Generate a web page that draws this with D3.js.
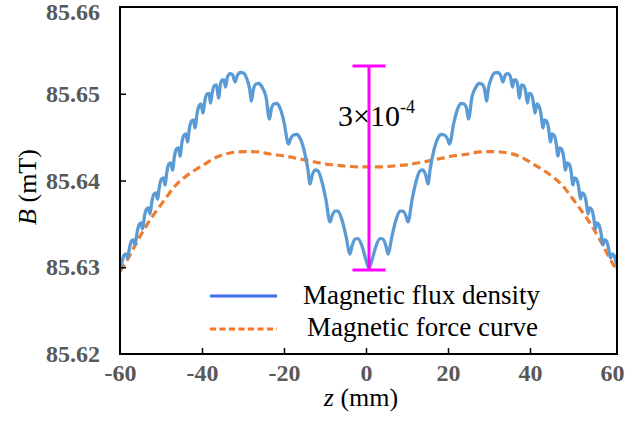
<!DOCTYPE html>
<html>
<head>
<meta charset="utf-8">
<script src="https://cdn.jsdelivr.net/npm/d3@7/dist/d3.min.js"></script>
<style>
  html, body { margin: 0; padding: 0; background: #fff; }
  svg { display: block; }
</style>
</head>
<body>
<svg id="chart" width="630" height="427"></svg>
<script>
// ---------------- data ----------------
const zTicks = [-60, -40, -20, 0, 20, 40, 60];
const bTicks = [85.62, 85.63, 85.64, 85.65, 85.66];

// Magnetic flux density (blue, solid)
const fluxZ = [
  -60.00, -59.51, -59.02, -58.54, -58.17, -57.68, -57.20, -56.71, -56.34, -55.85,
  -55.37, -54.88, -54.51, -54.02, -53.54, -53.05, -52.68, -52.20, -51.71, -51.22,
  -50.85, -50.37, -49.88, -49.39, -49.02, -48.54, -48.05, -47.56, -47.20, -46.71,
  -46.22, -45.73, -45.37, -44.88, -44.39, -43.90, -43.54, -43.05, -42.56, -42.07,
  -41.71, -41.22, -40.73, -40.24, -39.76, -39.27, -38.78, -38.29, -37.93, -37.44,
  -36.95, -36.46, -35.98, -35.49, -35.00, -34.63, -34.27, -33.78, -33.17, -32.56,
  -31.95, -31.34, -30.61, -29.88, -29.15, -28.41, -27.93, -27.44, -26.83, -26.10,
  -25.37, -24.39, -23.54, -23.05, -22.44, -21.71, -20.98, -20.00, -18.90, -18.41,
  -17.68, -16.83, -16.10, -15.12, -14.15, -13.66, -13.17, -12.44, -11.71, -10.73,
  -9.76, -8.78, -8.29, -7.56, -6.83, -5.85, -4.88, -3.90, -3.41, -2.68,
  -1.95, -0.98, 0.00, 0.73,
  1.46, 2.44, 3.41, 4.14, 4.87, 5.36, 6.34, 7.31, 8.29, 9.02,
  9.75, 10.24, 11.22, 12.19, 13.17, 13.90, 14.63, 15.12, 15.61, 16.58,
  17.56, 18.29, 19.14, 19.87, 20.36, 21.46, 22.44, 23.17, 23.90, 24.51,
  25.00, 25.85, 26.83, 27.56, 28.29, 28.90, 29.39, 29.87, 30.61, 31.34,
  32.07, 32.80, 33.41, 34.02, 34.63, 35.24, 35.73, 36.09, 36.46, 36.95,
  37.44, 37.92, 38.41, 38.90, 39.39, 39.75, 40.24, 40.73, 41.22, 41.70,
  42.19, 42.68, 43.17, 43.53, 44.02, 44.51, 45.00, 45.36, 45.85, 46.34,
  46.83, 47.19, 47.68, 48.17, 48.66, 49.02, 49.51, 50.00, 50.48, 50.85,
  51.34, 51.83, 52.31, 52.68, 53.17, 53.66, 54.14, 54.51, 55.00, 55.48,
  55.97, 56.34, 56.83, 57.31, 57.80, 58.17, 58.66, 59.14, 59.63, 60.00,
  60.48, 60.97, 61.46
];
const fluxB = [
  85.62945, 85.63061, 85.63141, 85.63153, 85.63107, 85.63222, 85.63303, 85.63314, 85.63256, 85.63395,
  85.63487, 85.63510, 85.63441, 85.63591, 85.63671, 85.63683, 85.63614, 85.63764, 85.63844, 85.63856,
  85.63787, 85.63937, 85.64017, 85.64029, 85.63948, 85.64110, 85.64190, 85.64202, 85.64121, 85.64282,
  85.64363, 85.64375, 85.64282, 85.64444, 85.64524, 85.64536, 85.64444, 85.64605, 85.64686, 85.64697,
  85.64605, 85.64767, 85.64859, 85.64882, 85.64778, 85.64928, 85.64997, 85.65003, 85.64893, 85.65032,
  85.65095, 85.65101, 85.64951, 85.65112, 85.65159, 85.65159, 85.65078, 85.65193, 85.65233, 85.65222,
  85.65135, 85.65216, 85.65245, 85.65239, 85.65182, 85.65066, 85.64916, 85.65055, 85.65112, 85.65118,
  85.65078, 85.64963, 85.64709, 85.64836, 85.64882, 85.64888, 85.64836, 85.64674, 85.64421, 85.64478,
  85.64524, 85.64530, 85.64490, 85.64352, 85.64121, 85.63960, 85.64052, 85.64121, 85.64110, 85.63983,
  85.63775, 85.63522, 85.63591, 85.63648, 85.63648, 85.63545, 85.63360, 85.63153, 85.63245, 85.63326,
  85.63331, 85.63245, 85.63084, 85.62991,
  85.63084, 85.63245, 85.63331, 85.63326, 85.63245, 85.63153, 85.63360, 85.63545, 85.63648, 85.63648,
  85.63591, 85.63522, 85.63775, 85.63983, 85.64110, 85.64121, 85.64052, 85.63960, 85.64121, 85.64352,
  85.64490, 85.64530, 85.64524, 85.64478, 85.64421, 85.64674, 85.64836, 85.64888, 85.64882, 85.64836,
  85.64709, 85.64963, 85.65078, 85.65118, 85.65112, 85.65055, 85.64916, 85.65066, 85.65182, 85.65239,
  85.65245, 85.65216, 85.65135, 85.65222, 85.65233, 85.65193, 85.65078, 85.65159, 85.65159, 85.65112,
  85.64951, 85.65101, 85.65095, 85.65032, 85.64893, 85.65003, 85.64997, 85.64928, 85.64778, 85.64882,
  85.64859, 85.64767, 85.64605, 85.64697, 85.64686, 85.64605, 85.64444, 85.64536, 85.64524, 85.64444,
  85.64282, 85.64375, 85.64363, 85.64282, 85.64121, 85.64202, 85.64190, 85.64110, 85.63948, 85.64029,
  85.64017, 85.63937, 85.63787, 85.63856, 85.63844, 85.63764, 85.63614, 85.63683, 85.63671, 85.63591,
  85.63441, 85.63510, 85.63487, 85.63395, 85.63256, 85.63314, 85.63303, 85.63222, 85.63107, 85.63153,
  85.63141, 85.63061, 85.62945
];

// Magnetic force curve (orange, dashed)
const forceZ = [
  -60.00, -58.78, -57.56, -55.61, -53.90, -52.20, -50.24, -48.29, -46.34, -44.15,
  -41.71, -39.27, -36.34, -33.17, -29.51, -26.34, -23.41, -19.76, -16.10, -12.44,
  -8.78, -5.12, -1.95, 0.73, 3.41, 6.58, 10.24, 13.90, 17.56, 21.22,
  24.87, 27.80, 30.97, 34.63, 37.80, 40.73, 43.17, 45.61, 47.80, 49.75,
  51.70, 53.66, 55.36, 57.07, 59.02, 60.24, 61.46
];
const forceB = [
  85.62957, 85.63037, 85.63141, 85.63314, 85.63452, 85.63579, 85.63706, 85.63833, 85.63948, 85.64040,
  85.64121, 85.64190, 85.64271, 85.64317, 85.64334, 85.64329, 85.64305, 85.64282, 85.64248, 85.64213,
  85.64184, 85.64167, 85.64156, 85.64156, 85.64156, 85.64167, 85.64184, 85.64213, 85.64248, 85.64282,
  85.64305, 85.64329, 85.64334, 85.64317, 85.64271, 85.64190, 85.64121, 85.64040, 85.63948, 85.63833,
  85.63706, 85.63579, 85.63452, 85.63314, 85.63141, 85.63037, 85.62957
];

// Range marker (peak-to-valley of flux density)
const rangeZ = 0.73;
const rangeLow = 85.62968;
const rangeHigh = 85.65320;
const rangeLabel = "3×10";
const rangeExp = "-4";

const seriesNames = ["Magnetic flux density", "Magnetic force curve"];
const xTitle = "z";
const xUnit = " (mm)";
const yTitle = "B";
const yUnit = " (mT)";

// ---------------- layout ----------------
const svg = d3.select("#chart");
const x = d3.scaleLinear().domain([-60, 60]).range([120, 612]);
const y = d3.scaleLinear().domain([85.62, 85.66]).range([354, 7]);
const frameRight = 617;

const serif = "'Liberation Serif', 'Times New Roman', serif";
const hyphenFmt = d => (d < 0 ? "-" + Math.abs(d) : String(d));

// clip
svg.append("defs").append("clipPath").attr("id", "plotclip")
  .append("rect").attr("x", 120).attr("y", 7).attr("width", frameRight - 120).attr("height", 347);

// curves
const fluxData = fluxZ.map((z, i) => [z, fluxB[i]]);
const forceData = forceZ.map((z, i) => [z, forceB[i]]);

const plot = svg.append("g").attr("clip-path", "url(#plotclip)");

plot.append("path")
  .datum(forceData)
  .attr("fill", "none")
  .attr("stroke", "#ed7d31")
  .attr("stroke-width", 3.2)
  .attr("stroke-dasharray", "8,4.5")
  .attr("d", d3.line().x(d => x(d[0])).y(d => y(d[1])).curve(d3.curveMonotoneX));

plot.append("path")
  .datum(fluxData)
  .attr("fill", "none")
  .attr("stroke", "#5b9bd5")
  .attr("stroke-width", 3.3)
  .attr("stroke-linejoin", "round")
  .attr("d", d3.line().x(d => x(d[0])).y(d => y(d[1])).curve(d3.curveMonotoneX));

// frame
svg.append("rect")
  .attr("x", 120).attr("y", 7)
  .attr("width", frameRight - 120).attr("height", 347)
  .attr("fill", "none").attr("stroke", "#000").attr("stroke-width", 2);

// x axis (ticks inward)
const xAxis = d3.axisBottom(x).tickValues(zTicks).tickSizeInner(-6).tickSizeOuter(0).tickPadding(10)
  .tickFormat(hyphenFmt);
const gx = svg.append("g").attr("transform", "translate(0,354)").call(xAxis);
gx.select(".domain").remove();
gx.selectAll(".tick line").attr("stroke", "#000").attr("stroke-width", 1.5)
  .filter(d => d === -60 || d === 60).remove();
gx.selectAll(".tick text")
  .attr("font-family", serif).attr("font-weight", "bold").attr("font-size", 24)
  .attr("fill", "#595959").attr("dy", "0.71em");

// y axis (ticks inward)
const yAxis = d3.axisLeft(y).tickValues(bTicks).tickSizeInner(-6).tickSizeOuter(0).tickPadding(20)
  .tickFormat(d3.format(".2f"));
const gy = svg.append("g").attr("transform", "translate(120,0)").call(yAxis);
gy.select(".domain").remove();
gy.selectAll(".tick line").attr("stroke", "#000").attr("stroke-width", 1.5)
  .filter(d => d === 85.62 || d === 85.66).remove();
gy.selectAll(".tick text")
  .attr("font-family", serif).attr("font-weight", "bold").attr("font-size", 24)
  .attr("fill", "#595959");
gy.selectAll(".tick").filter(d => d === 85.66).select("text").attr("dy", "0.5em");

// axis titles
const xt = svg.append("text").attr("x", 361).attr("y", 406).attr("text-anchor", "middle")
  .attr("font-family", serif).attr("font-size", 26).attr("fill", "#000");
xt.append("tspan").attr("font-style", "italic").text(xTitle);
xt.append("tspan").text(xUnit);

const yt = svg.append("text").attr("transform", "translate(36,187) rotate(-90)")
  .attr("text-anchor", "middle")
  .attr("font-family", serif).attr("font-size", 26).attr("fill", "#000");
yt.append("tspan").attr("font-style", "italic").text(yTitle);
yt.append("tspan").text(yUnit);

// range marker
const rx = x(rangeZ);
const mg = svg.append("g").attr("stroke", "#ff00ff").attr("stroke-width", 3);
mg.append("line").attr("x1", rx).attr("x2", rx).attr("y1", y(rangeHigh)).attr("y2", y(rangeLow));
mg.append("line").attr("x1", rx - 16.5).attr("x2", rx + 16.5).attr("y1", y(rangeHigh)).attr("y2", y(rangeHigh));
mg.append("line").attr("x1", rx - 16.5).attr("x2", rx + 16.5).attr("y1", y(rangeLow)).attr("y2", y(rangeLow));

const ann = svg.append("text").attr("x", rx - 31).attr("y", 126)
  .attr("font-family", serif).attr("font-size", 30).attr("fill", "#000");
ann.append("tspan").text(rangeLabel);
ann.append("tspan").attr("font-size", 18).attr("dy", -13).text(rangeExp);

// legend
const lg = svg.append("g");
lg.append("line").attr("x1", 210).attr("x2", 277).attr("y1", 296).attr("y2", 296)
  .attr("stroke", "#3f6fe8").attr("stroke-width", 3);
lg.append("line").attr("x1", 210).attr("x2", 277).attr("y1", 329).attr("y2", 329)
  .attr("stroke", "#ff7020").attr("stroke-width", 3).attr("stroke-dasharray", "6,3.5");
lg.append("text").attr("x", 303).attr("y", 304)
  .attr("font-family", serif).attr("font-size", 27).attr("fill", "#000").text(seriesNames[0]);
lg.append("text").attr("x", 307).attr("y", 336)
  .attr("font-family", serif).attr("font-size", 27).attr("fill", "#000").text(seriesNames[1]);
</script>
</body>
</html>
